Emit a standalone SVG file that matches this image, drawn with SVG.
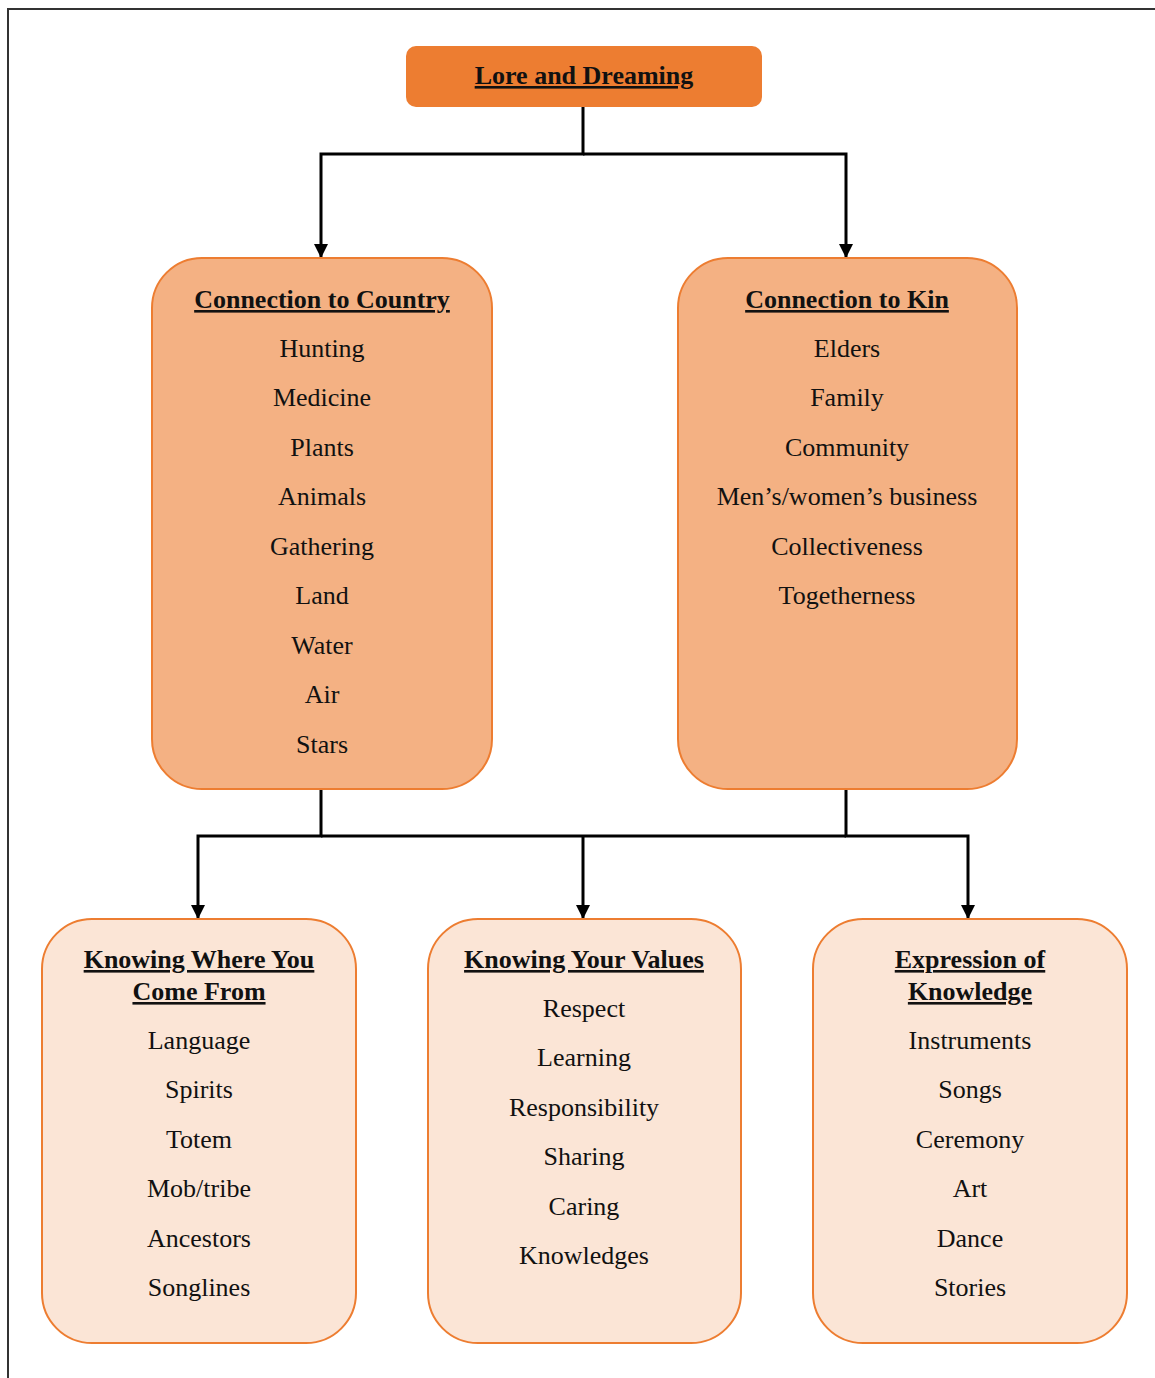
<svg xmlns="http://www.w3.org/2000/svg" width="1155" height="1378" viewBox="0 0 1155 1378">
<defs>
<style>
text{font-family:"Liberation Serif","Times New Roman",serif;font-size:26px;fill:#111;text-anchor:middle}
.t{font-weight:bold;text-decoration:underline}
.mid{fill:#F4B183;stroke:#ED7D31;stroke-width:2}
.low{fill:#FBE5D6;stroke:#ED7D31;stroke-width:2}
.c{fill:none;stroke:#000;stroke-width:3}
</style>
<marker id="ad" markerWidth="14" markerHeight="14" refX="13" refY="7" orient="auto" markerUnits="userSpaceOnUse" viewBox="0 0 14 14">
<path d="M0,0 L14,7 L0,14 Z" fill="#000"/>
</marker>
</defs>
<rect width="1155" height="1378" fill="#fff"/>
<path d="M8,1378 V9 H1155" fill="none" stroke="#333" stroke-width="2"/>
<g id="connectors">
<path class="c" d="M583,107 V154 H321 V257" marker-end="url(#ad)"/>
<path class="c" d="M583,154 H846 V257" marker-end="url(#ad)"/>
<path class="c" d="M321,789 V836 H198 V918" marker-end="url(#ad)"/>
<path class="c" d="M846,789 V836 H968 V918" marker-end="url(#ad)"/>
<path class="c" d="M321,836 H846"/>
<path class="c" d="M583,836 V918" marker-end="url(#ad)"/>
</g>
<g id="lore">
<rect x="406" y="46" width="356" height="61" rx="10" fill="#ED7D31"/>
<text class="t" x="584" y="84">Lore and Dreaming</text>
</g>
<g id="country">
<rect class="mid" x="152" y="258" width="340" height="531" rx="50"/>
<text class="t" x="322" y="308">Connection to Country</text>
<text x="322" y="357">Hunting</text>
<text x="322" y="406">Medicine</text>
<text x="322" y="456">Plants</text>
<text x="322" y="505">Animals</text>
<text x="322" y="555">Gathering</text>
<text x="322" y="604">Land</text>
<text x="322" y="654">Water</text>
<text x="322" y="703">Air</text>
<text x="322" y="753">Stars</text>
</g>
<g id="kin">
<rect class="mid" x="678" y="258" width="339" height="531" rx="50"/>
<text class="t" x="847" y="308">Connection to Kin</text>
<text x="847" y="357">Elders</text>
<text x="847" y="406">Family</text>
<text x="847" y="456">Community</text>
<text x="847" y="505">Men’s/women’s business</text>
<text x="847" y="555">Collectiveness</text>
<text x="847" y="604">Togetherness</text>
</g>
<g id="where">
<rect class="low" x="42" y="919" width="314" height="424" rx="50"/>
<text class="t" x="199" y="968">Knowing Where You</text>
<text class="t" x="199" y="1000">Come From</text>
<text x="199" y="1049">Language</text>
<text x="199" y="1098">Spirits</text>
<text x="199" y="1148">Totem</text>
<text x="199" y="1197">Mob/tribe</text>
<text x="199" y="1247">Ancestors</text>
<text x="199" y="1296">Songlines</text>
</g>
<g id="values">
<rect class="low" x="428" y="919" width="313" height="424" rx="50"/>
<text class="t" x="584" y="968">Knowing Your Values</text>
<text x="584" y="1017">Respect</text>
<text x="584" y="1066">Learning</text>
<text x="584" y="1116">Responsibility</text>
<text x="584" y="1165">Sharing</text>
<text x="584" y="1215">Caring</text>
<text x="584" y="1264">Knowledges</text>
</g>
<g id="expression">
<rect class="low" x="813" y="919" width="314" height="424" rx="50"/>
<text class="t" x="970" y="968">Expression of</text>
<text class="t" x="970" y="1000">Knowledge</text>
<text x="970" y="1049">Instruments</text>
<text x="970" y="1098">Songs</text>
<text x="970" y="1148">Ceremony</text>
<text x="970" y="1197">Art</text>
<text x="970" y="1247">Dance</text>
<text x="970" y="1296">Stories</text>
</g>
</svg>
